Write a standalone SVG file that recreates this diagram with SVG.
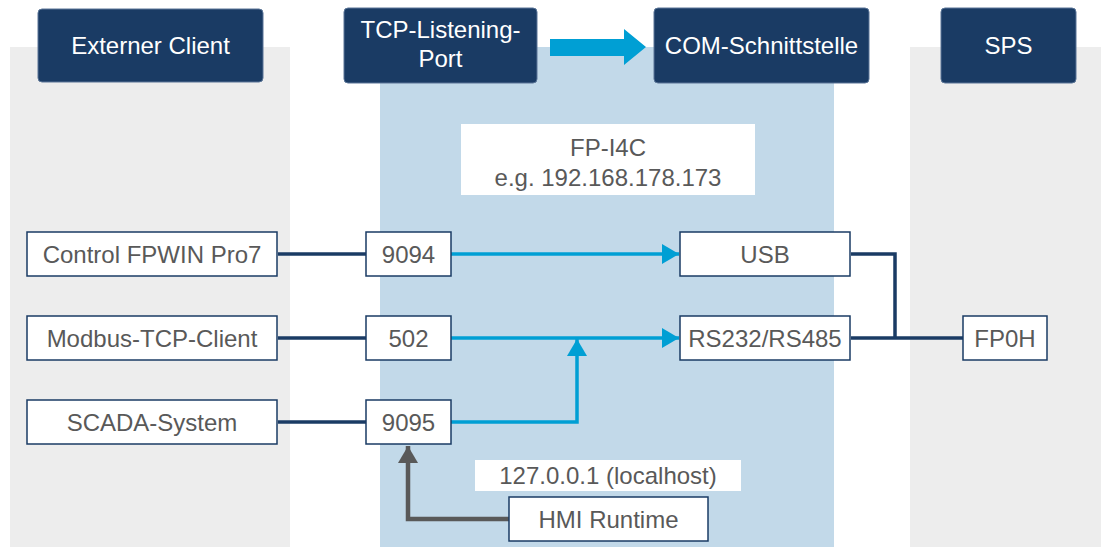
<svg xmlns="http://www.w3.org/2000/svg" width="1101" height="547" viewBox="0 0 1101 547">
<defs>
<style>
.hdr{fill:#1a3b64;stroke:#5a7597;stroke-width:1}
.ht{fill:#ffffff;font-family:"Liberation Sans",Arial,sans-serif;font-size:24px;text-anchor:middle}
.box{fill:#ffffff;stroke:#1a3b64;stroke-width:1.5}
.bt{fill:#595959;font-family:"Liberation Sans",Arial,sans-serif;font-size:24px;text-anchor:middle}
.dk{fill:none;stroke:#1a3b64;stroke-width:3.5}
.bl{fill:none;stroke:#009fd4;stroke-width:3.5}
.gr{fill:none;stroke:#595959;stroke-width:4.5}
</style>
<marker id="ab" markerUnits="userSpaceOnUse" markerWidth="18" markerHeight="20" refX="17" refY="10" orient="auto">
<path d="M0,0 L17,10 L0,20 Z" fill="#009fd4"/>
</marker>
<marker id="ag" markerUnits="userSpaceOnUse" markerWidth="18" markerHeight="20" refX="17" refY="10" orient="auto">
<path d="M0,0 L17,10 L0,20 Z" fill="#595959"/>
</marker>
</defs>
<g id="panels">
<rect x="10" y="47" width="280" height="500" fill="#ededed"/>
<rect x="380" y="47" width="454" height="500" fill="#c2d9e9"/>
<rect x="910" y="47" width="191" height="500" fill="#ededed"/>
</g>
<g id="hdr-client"><rect class="hdr" x="38" y="9" width="225" height="73" rx="4"/><text class="ht" x="150.5" y="54">Externer Client</text></g>
<g id="hdr-tcp"><rect class="hdr" x="344" y="8" width="193" height="75" rx="4"/><text class="ht" x="440.5" y="38">TCP-Listening-</text><text class="ht" x="440.5" y="67">Port</text></g>
<g id="hdr-com"><rect class="hdr" x="654" y="8" width="215" height="75" rx="4"/><text class="ht" x="761.5" y="54">COM-Schnittstelle</text></g>
<g id="hdr-sps"><rect class="hdr" x="941" y="8" width="135" height="75" rx="4"/><text class="ht" x="1008.5" y="54">SPS</text></g>
<g id="hdr-arrow"><polygon points="550,39 624,39 624,29 646,47 624,65 624,56 550,56" fill="#009fd4"/></g>
<g id="fpi4c"><rect x="461" y="124" width="294" height="71" fill="#ffffff"/><text class="bt" x="608" y="156">FP-I4C</text><text class="bt" x="608" y="186">e.g. 192.168.178.173</text></g>
<g id="localhost"><rect x="475" y="460" width="266" height="31" fill="#ffffff"/><text class="bt" x="608" y="484">127.0.0.1 (localhost)</text></g>
<g id="connectors">
<line class="dk" x1="278" y1="254" x2="366" y2="254"/>
<line class="dk" x1="278" y1="338" x2="366" y2="338"/>
<line class="dk" x1="278" y1="422" x2="366" y2="422"/>
<line class="bl" x1="451" y1="254" x2="679" y2="254" marker-end="url(#ab)"/>
<line class="bl" x1="451" y1="338" x2="679" y2="338" marker-end="url(#ab)"/>
<polyline class="bl" points="451,422 577,422 577,339" marker-end="url(#ab)"/>
<polyline class="dk" points="851,254 895,254 895,338"/>
<line class="dk" x1="851" y1="338" x2="963" y2="338"/>
<polyline class="gr" points="509,519 408,519 408,446" marker-end="url(#ag)"/>
</g>
<g id="n-fpwin"><rect class="box" x="27" y="232" width="250" height="44"/><text class="bt" x="152" y="263">Control FPWIN Pro7</text></g>
<g id="n-modbus"><rect class="box" x="27" y="316" width="250" height="44"/><text class="bt" x="152" y="347">Modbus-TCP-Client</text></g>
<g id="n-scada"><rect class="box" x="27" y="400" width="250" height="44"/><text class="bt" x="152" y="431">SCADA-System</text></g>
<g id="n-9094"><rect class="box" x="366" y="232" width="85" height="44"/><text class="bt" x="408.5" y="263">9094</text></g>
<g id="n-502"><rect class="box" x="366" y="316" width="85" height="44"/><text class="bt" x="408.5" y="347">502</text></g>
<g id="n-9095"><rect class="box" x="366" y="400" width="85" height="44"/><text class="bt" x="408.5" y="431">9095</text></g>
<g id="n-usb"><rect class="box" x="680" y="232" width="170" height="44"/><text class="bt" x="765" y="263">USB</text></g>
<g id="n-rs"><rect class="box" x="680" y="316" width="170" height="44"/><text class="bt" x="765" y="347">RS232/RS485</text></g>
<g id="n-fp0h"><rect class="box" x="963" y="316" width="84" height="44"/><text class="bt" x="1005" y="347">FP0H</text></g>
<g id="n-hmi"><rect class="box" x="509" y="497" width="199" height="44"/><text class="bt" x="608.5" y="528">HMI Runtime</text></g>
</svg>
